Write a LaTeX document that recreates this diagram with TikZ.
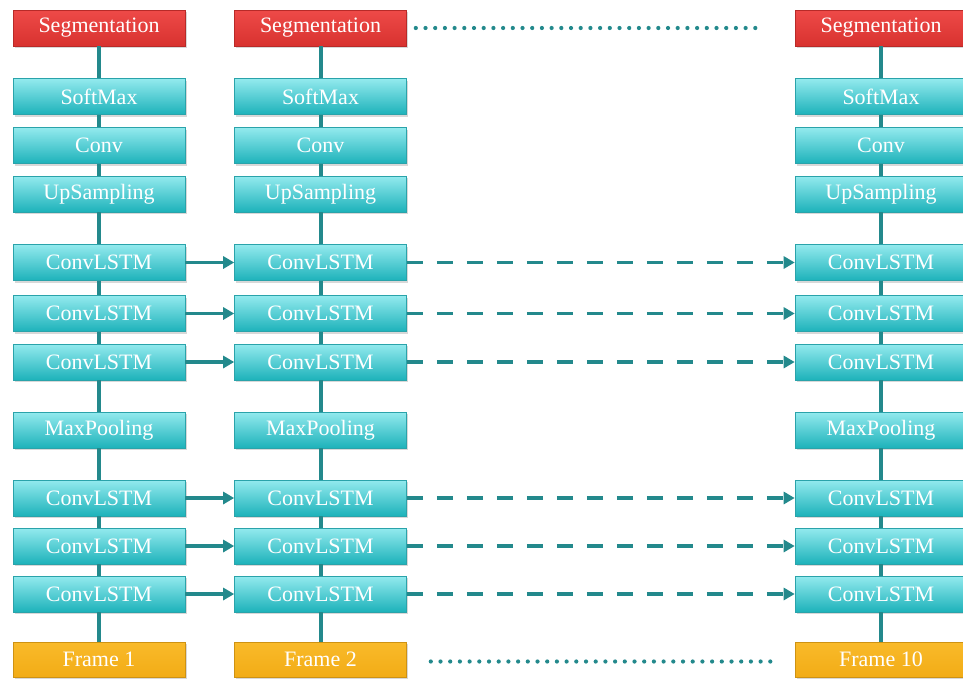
\documentclass[tikz,border=0pt]{standalone}
\usepackage{fontspec}
\setmainfont{Liberation Serif}
\usetikzlibrary{arrows.meta,shadows}
\definecolor{tealline}{HTML}{23898C}
\definecolor{tealtop}{HTML}{93EAEE}
\definecolor{tealbot}{HTML}{1DB2BA}
\definecolor{tealedge}{HTML}{2AA3AA}
\definecolor{segtop}{HTML}{EE4A48}
\definecolor{segbot}{HTML}{D8322F}
\definecolor{frametop}{HTML}{F9BA2A}
\definecolor{framebot}{HTML}{F2AC16}
\tikzset{
  layerbox/.style={rectangle, minimum width=172pt, minimum height=36pt, inner sep=0pt,
    text=white, font=\fontsize{22}{24}\selectfont,
    drop shadow={opacity=0.3, shadow xshift=1.5pt, shadow yshift=-2pt}},
  tealbox/.style={layerbox, top color=tealtop, bottom color=tealbot, draw=tealedge, line width=0.6pt},
  segbox/.style={layerbox, top color=segtop, bottom color=segbot, draw=segbot!85!black, line width=0.6pt},
  framebox/.style={layerbox, minimum height=35pt, top color=frametop, bottom color=framebot, draw=framebot!85!black, line width=0.6pt},
  vlink/.style={draw=tealline, line width=4pt},
  hlink/.style={draw=tealline, line width=3.5pt, -{Triangle[length=11pt,width=12pt]}},
  dlink/.style={hlink, dash pattern=on 16pt off 14pt},
  dotlink/.style={draw=tealline, line width=4.2pt, line cap=round, dash pattern=on 0pt off 9.7pt}
}
\begin{document}
\begin{tikzpicture}[x=1pt,y=-1pt]
\useasboundingbox (0,0) rectangle (963,680);
\fill[white] (0,0) rectangle (963,680);
% three columns of layer stacks
\foreach \c/\x in {1/99,2/320.5,3/881}{
  \node[segbox]   (c\c r1)  at (\x,28)    {Segmentation};
  \node[tealbox]  (c\c r2)  at (\x,96.5)  {SoftMax};
  \node[tealbox]  (c\c r3)  at (\x,145.5) {Conv};
  \node[tealbox]  (c\c r4)  at (\x,194)   {UpSampling};
  \node[tealbox]  (c\c r5)  at (\x,262.5) {ConvLSTM};
  \node[tealbox]  (c\c r6)  at (\x,313.5) {ConvLSTM};
  \node[tealbox]  (c\c r7)  at (\x,362)   {ConvLSTM};
  \node[tealbox]  (c\c r8)  at (\x,430)   {MaxPooling};
  \node[tealbox]  (c\c r9)  at (\x,498)   {ConvLSTM};
  \node[tealbox]  (c\c r10) at (\x,546)   {ConvLSTM};
  \node[tealbox]  (c\c r11) at (\x,594)   {ConvLSTM};
  \node[framebox] (c\c r12) at (\x,659.5) {Frame \ifnum\c=3 10\else\c\fi};
}
% vertical links inside each column
\foreach \c in {1,2,3}{
  \foreach \r [evaluate=\r as \n using int(\r+1)] in {1,...,11}{
    \draw[vlink] (c\c r\r.south) -- (c\c r\n.north);
  }
}
% recurrent links between time steps
\foreach \r in {5,6,7,9,10,11}{
  \draw[hlink] (c1r\r.east) -- (c2r\r.west);
  \draw[dlink] (c2r\r.east) -- (c3r\r.west);
}
% elided time steps
\draw[dotlink, shorten <=9pt, shorten >=30pt] (c2r1.east) -- (c3r1.west);
\draw[dotlink, shorten <=24pt, shorten >=19pt] ([yshift=-2pt]c2r12.east) -- ([yshift=-2pt]c3r12.west);
\end{tikzpicture}
\end{document}
